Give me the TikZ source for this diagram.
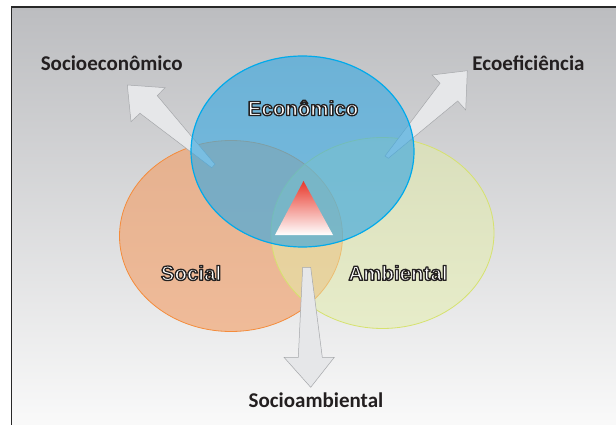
\documentclass[tikz,border=0pt]{standalone}
\usepackage{fontspec}
\setmainfont{Carlito}
\newfontfamily\outlinefont{Liberation Sans}
\usetikzlibrary{shapes.geometric, positioning}

\definecolor{bgtop}{RGB}{188,189,192}
\definecolor{bgbottom}{RGB}{250,250,250}
\definecolor{frameline}{RGB}{40,40,40}
\definecolor{socialfill}{RGB}{242,160,106}
\definecolor{socialline}{RGB}{244,140,60}
\definecolor{ambfill}{RGB}{228,238,168}
\definecolor{ambline}{RGB}{214,226,110}
\definecolor{ecofill}{RGB}{63,169,223}
\definecolor{ecoline}{RGB}{0,170,235}
\definecolor{arrowfill}{RGB}{230,231,233}
\definecolor{arrowline}{RGB}{165,167,170}
\definecolor{trired}{RGB}{232,56,43}
\definecolor{labeltext}{RGB}{35,31,32}

% white letters with a dark outline (fill + stroke render mode)
\newcommand{\outlined}[1]{\special{pdf:literal direct 2 Tr 1.3 w 1 j 0.14 0.13 0.13 RG}#1\special{pdf:literal direct 0 Tr}}

\tikzset{
    venn/.style = {ellipse, minimum width=223pt, minimum height=191pt, inner sep=0pt},
    % Circles
    social/.style    = {venn, draw=socialline, line width=0.8pt, fill=socialfill, fill opacity=0.64},
    ambiental/.style = {venn, draw=ambline, line width=0.8pt, fill=ambfill, fill opacity=0.5},
    economico/.style = {venn, draw=ecoline, line width=1.2pt, fill=ecofill, fill opacity=0.65},
    % Arrows and labels
    blockarrow/.style = {fill=arrowfill, draw=arrowline, line width=0.5pt, line join=miter},
    outside/.style = {font=\fontsize{21}{25}\selectfont\bfseries, text=labeltext},
    inside/.style  = {font=\outlinefont\fontsize{20.5}{24}\selectfont\bfseries, text=white}
}

\begin{document}
\begin{tikzpicture}[x=1pt, y=-1pt]
    \useasboundingbox (0,0) rectangle (616,425);

    % Background panel
    \shade[top color=bgtop, bottom color=bgbottom] (11.5,7) rectangle (620,430);
    \draw[frameline, line width=1.3pt] (11.5,430) -- (11.5,7) -- (620,7);

    \node (social) [social] at (231,236) {};
    \node (amb) [ambiental] at (382.5,233) {};

    % Socioeconomico arrow
    \draw[blockarrow] (127.3,85) -- (165,87.7) -- (157.3,95.7) -- (215,164.3)
        -- (211.7,167.7) -- (140,113.3) -- (131,121.7) -- cycle;
    % Ecoeficiencia arrow
    \draw[blockarrow] (467.3,70.7) -- (465.7,110) -- (457.7,101) -- (388.3,158.3)
        -- (385,156) -- (440,83.3) -- (432,75) -- cycle;

    \node (eco) [economico] at (302.5,151.5) {};

    % Socioambiental arrow
    \draw[blockarrow] (302.7,267.3) -- (310.7,267.3) -- (322.3,357.3) -- (334.3,357.3)
        -- (310.7,387.3) -- (284,357.3) -- (298.3,357.3) -- cycle;

    % Sustainability triangle
    \shade[top color=trired, bottom color=white] (303.5,181) -- (333,235) -- (275,235) -- cycle;

    \node (ecolabel) [inside] at (303,108) {\outlined{Econômico}};
    \node (soclabel) [inside] at (191,273) {\outlined{Social}};
    \node (amblabel) [inside] at (398,273) {\outlined{Ambiental}};

    \node (socioeco) [outside] at (111.7,63.5) {Socioeconômico};
    \node (ecoef) [outside] at (528.5,63.5) {Ecoeficiência};
    \node (socioamb) [outside] at (316,400) {Socioambiental};
\end{tikzpicture}
\end{document}
